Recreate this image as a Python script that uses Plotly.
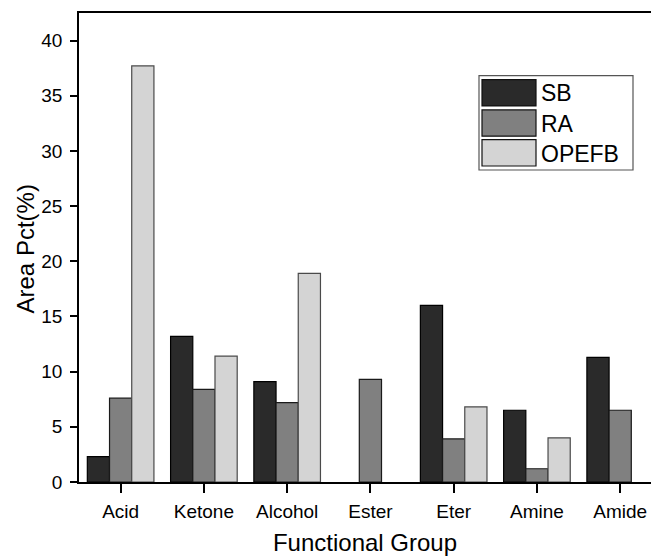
import plotly.graph_objects as go

# Functional groups found in each sample (area percentage)
groups = ["Acid", "Ketone", "Alcohol", "Ester", "Eter", "Amine", "Amide"]
sb = [2.3, 13.2, 9.1, None, 16.0, 6.5, 11.3]
ra = [7.6, 8.4, 7.2, 9.3, 3.9, 1.2, 6.5]
opefb = [37.7, 11.4, 18.9, None, 6.8, 4.0, None]

series_names = ["SB", "RA", "OPEFB"]
series_values = [sb, ra, opefb]
series_colors = ["#2a2a2a", "#808080", "#d4d4d4"]
edge_colors = ["#000000", "#1a1a1a", "#4a4a4a"]

y_ticks = [0, 5, 10, 15, 20, 25, 30, 35, 40]

W, H = 651, 556
M_L, M_R, M_T, M_B = 79, 0, 13, 71
FONT = "Arial, Liberation Sans, sans-serif"

fig = go.Figure()
for name, vals, col, edge in zip(series_names, series_values, series_colors, edge_colors):
    fig.add_trace(go.Bar(
        x=groups, y=vals, name=name,
        marker=dict(color=col, line=dict(color=edge, width=1.2)),
        showlegend=False,
    ))

# pixel -> paper helpers for the legend box and y title
pw, ph = W - M_L - M_R, H - M_T - M_B
def px(x):
    return (x - M_L) / pw
def py(y):
    return 1 - (y - M_T) / ph

shapes = [dict(type="rect", xref="paper", yref="paper",
               x0=px(479), x1=px(633), y0=py(171), y1=py(76),
               line=dict(color="#555555", width=1.2), fillcolor="white")]
annotations = []
row_top = [80, 110.5, 140.5]
for t, name, col in zip(row_top, series_names, series_colors):
    shapes.append(dict(type="rect", xref="paper", yref="paper",
                       x0=px(482), x1=px(536), y0=py(t + 26.5), y1=py(t),
                       line=dict(color="#111111", width=1.2), fillcolor=col))
    annotations.append(dict(xref="paper", yref="paper", x=px(539), y=py(t + 14),
                            text=name, showarrow=False, xanchor="left", yanchor="middle",
                            font=dict(family=FONT, size=23, color="black")))

# y-axis title
annotations.append(dict(xref="paper", yref="paper", x=px(25), y=py(251),
                        text="Area Pct(%)", textangle=-90, showarrow=False,
                        xanchor="center", yanchor="middle",
                        font=dict(family=FONT, size=24, color="black")))

fig.update_layout(
    width=W, height=H,
    margin=dict(l=M_L, r=M_R, t=M_T, b=M_B),
    plot_bgcolor="white", paper_bgcolor="white",
    barmode="group", bargap=0.2, bargroupgap=0,
    font=dict(family=FONT, size=19, color="black"),
    shapes=shapes, annotations=annotations,
    xaxis=dict(
        range=[-0.5, 6.37],
        showline=True, linecolor="black", linewidth=1.8, mirror=True,
        ticks="outside", ticklen=9, tickwidth=1.5, tickcolor="black",
        tickfont=dict(size=19), showgrid=False, zeroline=False,
        ticklabelstandoff=2,
        title=dict(text="Functional Group", font=dict(size=24), standoff=17),
    ),
    yaxis=dict(
        range=[0, 42.5], tickvals=y_ticks,
        showline=True, linecolor="black", linewidth=1.8,
        ticks="outside", ticklen=7, tickwidth=1.5, tickcolor="black",
        tickfont=dict(size=19), showgrid=False, zeroline=False,
        ticklabelstandoff=4,
    ),
)

fig.write_html("out.html")
